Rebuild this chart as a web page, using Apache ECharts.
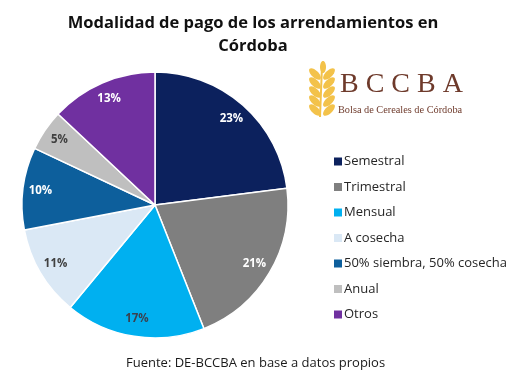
<!DOCTYPE html>
<html><head><meta charset="utf-8">
<script src="https://cdn.jsdelivr.net/npm/echarts@6/dist/echarts.min.js"></script>
<style>html,body{margin:0;padding:0;background:#fff}#c{width:518px;height:389px}</style>
</head><body><div id="c"></div>
<script>
const categories = ['Semestral','Trimestral','Mensual','A cosecha','50% siembra, 50% cosecha','Anual','Otros'];
const values = [23,21,17,11,10,5,13];
const colors = ['#0c215d','#7f7f7f','#00b0f0','#dae8f5','#0d5f9c','#bfbfbf','#7030a0'];
const labelColors = ['#fff','#fff','#3a4250','#404040','#fff','#404040','#fff'];

const chart = echarts.init(document.getElementById('c'));
const wheat = [];
const gold = '#f3c24a';
wheat.push({type:'line', shape:{x1:322,y1:66,x2:320,y2:117}, style:{stroke:gold,lineWidth:2}});
for (let i=0;i<5;i++){
  const y = 74 + i*9;
  wheat.push({type:'ellipse', shape:{cx:315,cy:y,rx:3.5,ry:7.5}, rotation:0.8, originX:315, originY:y, style:{fill:gold}});
  wheat.push({type:'ellipse', shape:{cx:329,cy:y,rx:3.5,ry:7.5}, rotation:-0.8, originX:329, originY:y, style:{fill:gold}});
}
wheat.push({type:'ellipse', shape:{cx:323,cy:67,rx:3,ry:6}, style:{fill:gold}});

chart.setOption({
  animation:false,
  title:{text:'Modalidad de pago de los arrendamientos en\nCórdoba', left:248, top:7, textAlign:'center',
    textStyle:{fontFamily:'Open Sans, sans-serif', fontWeight:'bold', fontSize:16.5, color:'#111', lineHeight:23}},
  legend:{orient:'vertical', left:327, top:150, itemWidth:10, itemHeight:10, itemGap:12.5, icon:'rect',
    textStyle:{fontFamily:'Open Sans, sans-serif', fontSize:13, color:'#262626', padding:[0,0,0,-4]}, data:categories},
  graphic: wheat.concat([
    {type:'text', left:340, top:71, style:{text:'B C C B A', font:'28px "Liberation Serif", serif', fill:'#6e3a2b'}},
    {type:'text', left:338, top:105, style:{text:'Bolsa de Cereales de Córdoba', font:'10.3px "Liberation Serif", serif', fill:'#6e3a2b'}},
    {type:'text', left:126, top:357, style:{text:'Fuente: DE-BCCBA en base a datos propios', font:'13px "Open Sans", sans-serif', fill:'#1a1a1a'}}
  ]),
  series:[{
    type:'pie', center:[155,205], radius:[0,133], startAngle:90, clockwise:true,
    itemStyle:{borderColor:'#fff', borderWidth:1.5},
    label:{show:false}, labelLine:{show:false},
    data: categories.map((n,i)=>({name:n, value:values[i], itemStyle:{color:colors[i]}}))
  },{
    type:'pie', center:[155,205], radius:[92,133], startAngle:90, clockwise:true, silent:true,
    itemStyle:{color:'rgba(0,0,0,0)', borderWidth:0},
    label:{position:'inside', formatter:'{c}%', fontFamily:'Open Sans, sans-serif', fontWeight:'bold', fontSize:11.5},
    labelLine:{show:false},
    data: categories.map((n,i)=>({name:n, value:values[i], label:{color:labelColors[i]}}))
  }]
});
</script></body></html>
